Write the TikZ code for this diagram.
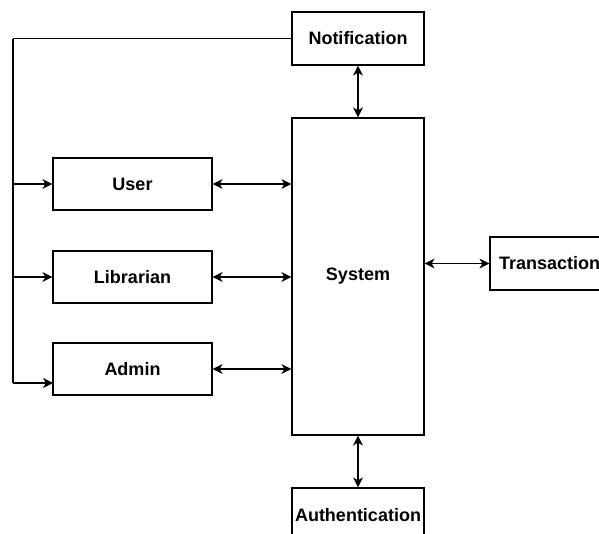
\documentclass[tikz,border=0pt]{standalone}
\usepackage{fontspec}
\setmainfont{Liberation Sans}
\usetikzlibrary{arrows.meta}

\tikzstyle{invisible} = [outer sep=0,inner sep=0,minimum size=0]
\tikzstyle{block} = [draw=black, line width=1.2pt, inner sep=0, minimum width=132pt, minimum height=53pt, font=\bfseries\fontsize{18}{20}\selectfont]
\tikzstyle{link} = [draw=black, line width=1.3pt]
\tikzstyle{one} = [link, -{Stealth[length=10pt,width=10pt,inset=3pt]}]
\tikzstyle{both} = [link, {Stealth[length=10pt,width=10pt,inset=3pt]}-{Stealth[length=10pt,width=10pt,inset=3pt]}]

\begin{document}
\begin{tikzpicture}[x=1pt,y=-1pt]
\useasboundingbox (0,0) rectangle (599,533);
\clip (0,0) rectangle (599,533);

% CENTRE
\node[block, minimum height=317pt] (sys) at (358,276.5) {System};
\node[block] (notif) at (358,38.5) {Notification};
\node[block, minimum width=120pt, text width=102pt, align=left, inner xsep=9pt] (trans) at (550,263.5) {Transaction};
\node[block, minimum height=54pt] (auth) at (358,515) {Authentication};

% ACTORS
\node[block, minimum width=159pt, minimum height=52pt] (user) at (132.5,184) {User};
\node[block, minimum width=159pt, minimum height=52pt] (libr) at (132.5,277) {Librarian};
\node[block, minimum width=159pt, minimum height=52pt] (admin) at (132.5,369) {Admin};

\draw[both] (user.east) -- (user.east -| sys.west);
\draw[both] (libr.east) -- (libr.east -| sys.west);
\draw[both] (admin.east) -- (admin.east -| sys.west);

\draw[both] (notif.south) -- (sys.north);
\draw[both] (sys.south) -- (auth.north);
\draw[both] (trans.west -| sys.east) -- (trans.west);

% NOTIFICATION LINE
\node [invisible] (v1) at (13,38.5) {};
\node [invisible] (v2) at (13,184) {};
\node [invisible] (v3) at (13,277) {};
\node [invisible] (v4) at (13,383) {};
\node [invisible] (v5) at (53,383) {};
\draw[link] (notif.west) -- (v1) -- (v4);
\draw[one] (v2) -- (user.west);
\draw[one] (v3) -- (libr.west);
\draw[one] (v4) -- (v5);

\end{tikzpicture}
\end{document}
